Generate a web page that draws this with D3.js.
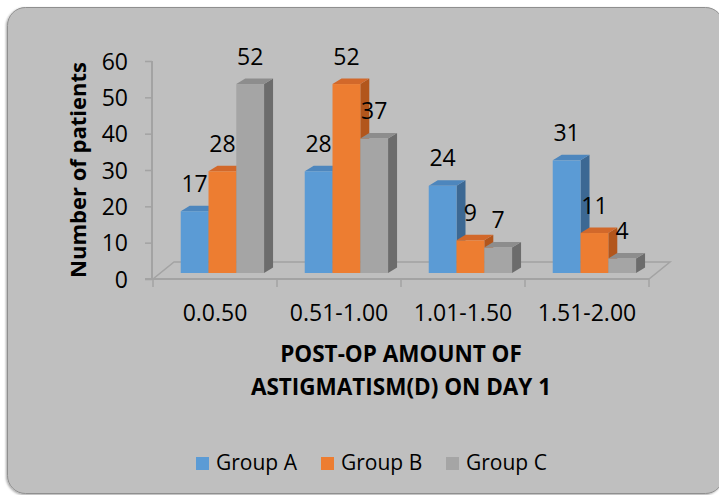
<!DOCTYPE html>
<html>
<head>
<meta charset="utf-8">
<script src="https://cdn.jsdelivr.net/npm/d3@7"></script>
<style>
  html, body { margin: 0; padding: 0; background: #ffffff; }
  svg { display: block; }
  text { font-family: "Open Sans", "DejaVu Sans", sans-serif; fill: #000; }
</style>
</head>
<body>
<svg id="chart" width="719" height="495"></svg>
<script>
// Post-op astigmatism on day 1, patients per group
const categories = ["0.0.50", "0.51-1.00", "1.01-1.50", "1.51-2.00"];
const groups = ["Group A", "Group B", "Group C"];
const groupA = [17, 28, 24, 31];
const groupB = [28, 52, 9, 11];
const groupC = [52, 37, 7, 4];
const yTicks = [0, 10, 20, 30, 40, 50, 60];

const seriesValues = [groupA, groupB, groupC];
const faceColors = {
  "Group A": { front: "#5b9bd5", top: "#4d86bd", side: "#3c6893" },
  "Group B": { front: "#ed7d31", top: "#d2682a", side: "#b2561c" },
  "Group C": { front: "#a5a5a5", top: "#8d8d8d", side: "#6c6c6c" }
};

const svg = d3.select("#chart");

// chart area panel
const defs = svg.append("defs");
const shadow = defs.append("filter").attr("id", "panelShadow")
  .attr("x", "-5%").attr("y", "-5%").attr("width", "110%").attr("height", "110%");
shadow.append("feDropShadow").attr("dx", -1).attr("dy", 1)
  .attr("stdDeviation", 1).attr("flood-color", "#000").attr("flood-opacity", 0.35);

svg.append("rect")
  .attr("x", 7.5).attr("y", 7.5).attr("width", 716).attr("height", 486)
  .attr("rx", 18).attr("ry", 18)
  .attr("fill", "#bfbfbf").attr("stroke", "#8f8f8f").attr("stroke-width", 1)
  .attr("filter", "url(#panelShadow)");

// scales
const x0 = d3.scaleBand().domain(categories).range([153, 649]).padding(0);
const y = d3.scaleLinear().domain([0, 60]).range([279, 61]);
const bw = x0.bandwidth();
const x1 = d3.scaleBand().domain(groups).range([bw * 0.164, bw * 0.836]).padding(0);

// 3D projection offsets
const floorDx = 21, floorDy = -17;     // full floor depth
const barShiftX = 7.4, barShiftY = -6; // bars sit part way back on the floor
const barDx = 9, barDy = -5.5;         // bar depth

const axisColor = "#a3a3a3";

// floor
const fl = 153, fr = 649, fy = y(0);
svg.append("polygon")
  .attr("points", [[fl, fy], [fr, fy], [fr + floorDx, fy + floorDy], [fl + floorDx, fy + floorDy]].map(p => p.join(",")).join(" "))
  .attr("fill", "none").attr("stroke", axisColor).attr("stroke-width", 1.5);

// y axis
const yAxis = d3.axisLeft(y).tickValues(yTicks).tickSize(7).tickPadding(17);
const gy = svg.append("g").attr("transform", "translate(152,0)").call(yAxis);
gy.select(".domain").attr("stroke", axisColor).attr("stroke-width", 2).attr("d", `M0,${y(60)}V${y(0)}`);
gy.selectAll(".tick line").attr("stroke", axisColor).attr("stroke-width", 1.5);
gy.selectAll(".tick text").attr("font-size", 23).attr("font-family", "Open Sans").attr("fill", "#000").attr("dy", "0.36em");

// x axis ticks at category boundaries
const xBounds = categories.map(c => x0(c)).concat([x0(categories[categories.length - 1]) + bw]);
svg.append("g").selectAll("line").data(xBounds).join("line")
  .attr("x1", d => d).attr("x2", d => d)
  .attr("y1", fy).attr("y2", fy + 8)
  .attr("stroke", axisColor).attr("stroke-width", 1.5);
svg.append("line").attr("x1", 145).attr("x2", fr).attr("y1", fy).attr("y2", fy)
  .attr("stroke", axisColor).attr("stroke-width", 2);

// category labels
svg.append("g").selectAll("text").data(categories).join("text")
  .attr("x", d => x0(d) + bw / 2).attr("y", 321)
  .attr("text-anchor", "middle").attr("font-size", 23)
  .text(d => d);

// bars
const bars = [];
categories.forEach((c, ci) => {
  groups.forEach((g, gi) => {
    bars.push({ cat: c, group: g, value: seriesValues[gi][ci] });
  });
});

const barW = x1.bandwidth();
const gBars = svg.append("g");
bars.forEach(d => {
  const xl = x0(d.cat) + barShiftX + x1(d.group);
  const xr = xl + barW;
  const yt = y(d.value) + barShiftY;
  const yb = y(0) + barShiftY;
  const col = faceColors[d.group];
  const g = gBars.append("g");
  g.append("polygon")
    .attr("points", [[xr, yt], [xr + barDx, yt + barDy], [xr + barDx, yb + barDy], [xr, yb]].map(p => p.join(",")).join(" "))
    .attr("fill", col.side);
  g.append("polygon")
    .attr("points", [[xl, yt], [xr, yt], [xr + barDx, yt + barDy], [xl + barDx, yt + barDy]].map(p => p.join(",")).join(" "))
    .attr("fill", col.top);
  g.append("rect")
    .attr("x", xl).attr("y", yt).attr("width", barW).attr("height", yb - yt)
    .attr("fill", col.front);
});

// value labels
svg.append("g").selectAll("text").data(bars).join("text")
  .attr("x", d => x0(d.cat) + barShiftX + x1(d.group) + barW / 2)
  .attr("y", d => y(d.value) + barShiftY + barDy - 14)
  .attr("text-anchor", "middle").attr("font-size", 23)
  .text(d => d.value);

// axis titles
svg.append("text")
  .attr("transform", `translate(86,${(y(0) + y(60)) / 2}) rotate(-90)`)
  .attr("text-anchor", "middle").attr("font-size", 22).attr("font-weight", "bold")
  .text("Number of patients");

const titleX = (fl + fr) / 2;
svg.append("text").attr("x", titleX).attr("y", 362)
  .attr("text-anchor", "middle").attr("font-size", 22.5).attr("font-weight", "bold")
  .text("POST-OP AMOUNT OF");
svg.append("text").attr("x", titleX).attr("y", 395)
  .attr("text-anchor", "middle").attr("font-size", 22.5).attr("font-weight", "bold")
  .text("ASTIGMATISM(D) ON DAY 1");

// legend
const legendX = [196, 321, 446];
const legend = svg.append("g").selectAll("g").data(groups).join("g")
  .attr("transform", (d, i) => `translate(${legendX[i]},457)`);
legend.append("rect").attr("width", 13).attr("height", 13)
  .attr("fill", d => faceColors[d].front);
legend.append("text").attr("x", 20).attr("y", 13)
  .attr("font-size", 21).text(d => d);
</script>
</body>
</html>
